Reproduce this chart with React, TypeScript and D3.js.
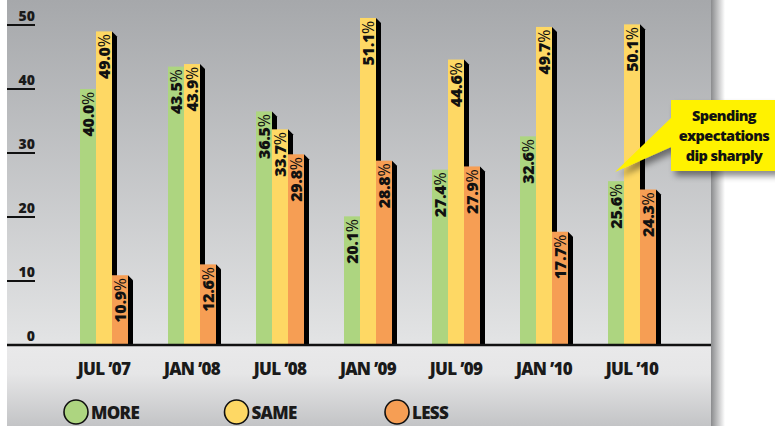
import React from 'react';
import * as d3 from 'd3';

const categories = ["JUL \u201907", "JAN \u201908", "JUL \u201908", "JAN \u201909", "JUL \u201909", "JAN \u201910", "JUL \u201910"];
const seriesNames = ['MORE', 'SAME', 'LESS'];
const moreValues = [40.0, 43.5, 36.5, 20.1, 27.4, 32.6, 25.6];
const sameValues = [49.0, 43.9, 33.7, 51.1, 44.6, 49.7, 50.1];
const lessValues = [10.9, 12.6, 29.8, 28.8, 27.9, 17.7, 24.3];
const yTicks = [0, 10, 20, 30, 40, 50];
const calloutLines = ['Spending', 'expectations', 'dip sharply'];

const colors: Record<string, string> = { MORE: '#add580', SAME: '#fed864', LESS: '#f69e54' };
const FONT = '"Open Sans", "Noto Sans", sans-serif';

const W = 775;
const H = 426;
const panelLeft = 7;
const panelRight = 711;
const baseY = 345;

const App = () => {
  const x = d3.scaleBand<string>().domain(categories).range([60, 676]).paddingInner(40 / 88).paddingOuter(20 / 88);
  const xs = d3.scaleBand<string>().domain(seriesNames).range([0, x.bandwidth()]);
  const y = d3.scaleLinear().domain([0, 50]).range([baseY, 25]);

  const data = seriesNames.map((s, si) => ({
    name: s,
    values: [moreValues, sameValues, lessValues][si],
  }));
  const bars = categories.flatMap((c, ci) =>
    data.map((s) => ({ cat: c, series: s.name, value: s.values[ci] }))
  );
  const bw = xs.bandwidth();
  const sh = 5;

  const legendX = d3.scalePoint<string>().domain(seriesNames).range([76, 397]);

  return (
    <svg width={W} height={H} style={{ position: 'absolute', left: 0, top: 0 }}>
      <defs>
        <linearGradient id="topGrad" x1="0" y1="0" x2="0" y2="1">
          <stop offset="0" stopColor="#a6a8ab" />
          <stop offset="1" stopColor="#e3e4e5" />
        </linearGradient>
        <linearGradient id="botGrad" x1="0" y1="0" x2="0" y2="1">
          <stop offset="0" stopColor="#e9e9ea" />
          <stop offset="0.35" stopColor="#e6e6e7" />
          <stop offset="1" stopColor="#c3c4c6" />
        </linearGradient>
        <linearGradient id="edgeShadow" x1="0" y1="0" x2="1" y2="0">
          <stop offset="0" stopColor="#8a8b8d" />
          <stop offset="1" stopColor="#ffffff" />
        </linearGradient>
        <filter id="callShadow" x="-20%" y="-20%" width="150%" height="160%">
          <feDropShadow dx="4" dy="5" stdDeviation="3" floodColor="#000" floodOpacity="0.45" />
        </filter>
      </defs>
      <rect x={0} y={0} width={W} height={H} fill="#ffffff" />
      {/* panel */}
      <rect x={panelRight} y={0} width={14} height={H} fill="url(#edgeShadow)" />
      <rect x={panelLeft} y={0} width={panelRight - panelLeft} height={baseY} fill="url(#topGrad)" />
      <rect x={panelLeft} y={baseY} width={panelRight - panelLeft} height={H - baseY} fill="url(#botGrad)" />

      {/* y ticks */}
      {yTicks.map((t) => (
        <g key={t}>
          {t > 0 && <line x1={panelLeft} x2={35} y1={y(t)} y2={y(t)} stroke="#111" strokeWidth={2} />}
          <text x={35} y={y(t) - 4} textAnchor="end" fontFamily={FONT} fontWeight={800} fontSize={14} fill="#1a1a1a">
            {t}
          </text>
        </g>
      ))}

      {/* bar shadows */}
      {bars.map((b, i) => {
        const bx = x(b.cat)! + xs(b.series)! + bw;
        const top = y(b.value);
        return (
          <polygon
            key={'s' + i}
            points={`${bx},${top} ${bx + sh},${top + sh} ${bx + sh},${baseY} ${bx},${baseY}`}
            fill="#000"
          />
        );
      })}
      {/* bars */}
      {bars.map((b, i) => {
        const bx = x(b.cat)! + xs(b.series)!;
        const top = y(b.value);
        return (
          <g key={'b' + i}>
            <rect x={bx} y={top} width={bw} height={baseY - top} fill={colors[b.series]} />
            <text
              transform={`translate(${bx + bw / 2 + 6},${top + 3}) rotate(-90)`}
              textAnchor="end"
              fontFamily={FONT}
              fontWeight={800}
              fontSize={16}
              letterSpacing={-0.3}
              fill="#111"
            >
              {b.value.toFixed(1)}
              <tspan fontWeight={400}>%</tspan>
            </text>
          </g>
        );
      })}

      {/* baseline */}
      <line x1={panelLeft} x2={panelRight} y1={baseY} y2={baseY} stroke="#111" strokeWidth={2.5} />

      {/* x labels */}
      {categories.map((c) => (
        <text
          key={c}
          x={x(c)! + x.bandwidth() / 2}
          y={375}
          textAnchor="middle"
          fontFamily={FONT}
          fontWeight={800}
          fontSize={17}
          letterSpacing={-0.7}
          fill="#1a1a1a"
        >
          {c}
        </text>
      ))}

      {/* legend */}
      {seriesNames.map((s) => (
        <g key={s}>
          <circle cx={legendX(s)!} cy={412} r={12} fill={colors[s]} stroke="#111" strokeWidth={1.6} />
          <text x={legendX(s)! + 15} y={419} fontFamily={FONT} fontWeight={800} fontSize={17} letterSpacing={-0.7} fill="#1a1a1a">
            {s}
          </text>
        </g>
      ))}

      {/* callout */}
      <g filter="url(#callShadow)">
        <path d="M671,100 L780,100 L780,171 L671,171 L671,147 L615,172 L671,118 Z" fill="#fff200" />
      </g>
      {calloutLines.map((l, i) => (
        <text
          key={l}
          x={724}
          y={121 + i * 20}
          textAnchor="middle"
          fontFamily={FONT}
          fontWeight={800}
          fontSize={14.5}
          letterSpacing={-0.6}
          fill="#111"
        >
          {l}
        </text>
      ))}
    </svg>
  );
};

export default App;
